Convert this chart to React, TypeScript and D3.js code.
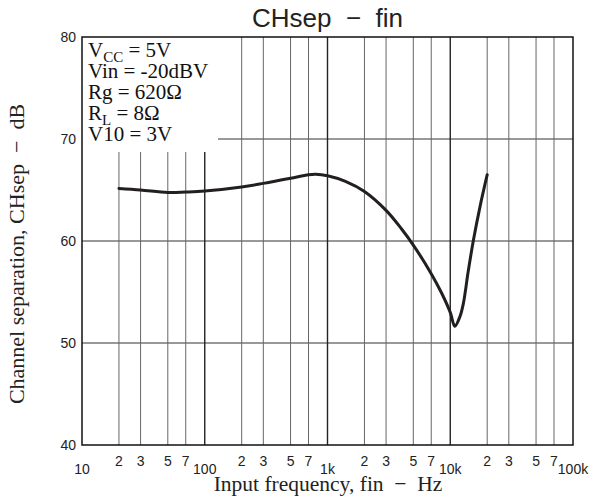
import React from 'react';
import * as d3 from 'd3';

const freqs = [20, 30, 50, 70, 100, 200, 300, 500, 700, 800, 1000, 1400, 2000, 3000, 4000, 5000, 7000, 8500, 10000, 10900, 12000, 12800, 14000, 15400, 17500, 20000];
const chsep = [65.15, 65.0, 64.75, 64.8, 64.9, 65.3, 65.65, 66.15, 66.5, 66.55, 66.4, 65.85, 64.85, 63.0, 61.2, 59.6, 56.8, 54.9, 53.0, 51.65, 52.6, 53.9, 57.0, 60.0, 63.4, 66.5];
const yTicks = [40, 50, 60, 70, 80];
const decadeTicks = [10, 100, 1000, 10000, 100000];
const decadeLabels = ['10', '100', '1k', '10k', '100k'];
const minorMults = [2, 3, 5, 7];

const SANS = 'Liberation Sans, Arial, Helvetica, sans-serif';
const SERIF = 'Liberation Serif, Times New Roman, serif';

export default function App() {
  const W = 593, H = 501;
  const L = 82, R = 573, T = 37, B = 445;
  const x = d3.scaleLog().domain([10, 100000]).range([L, R]);
  const y = d3.scaleLinear().domain([40, 80]).range([B, T]);
  const minors = decadeTicks.slice(0, 4).flatMap(d => minorMults.map(k => d * k));
  const line = d3.line<number>()
    .x((_, i) => x(freqs[i]))
    .y(d => y(d))
    .curve(d3.curveCatmullRom.alpha(0.5));
  const boxR = 218, boxB = 152;

  return (
    <svg width={W} height={H} style={{ position: 'absolute', left: 0, top: 0, background: '#fff' }}>
      <rect x={0} y={0} width={W} height={H} fill="#fff" />
      {yTicks.slice(1, 4).map(v => (
        <line key={'h' + v} x1={L} x2={R} y1={y(v)} y2={y(v)} stroke="#333" strokeWidth={1} />
      ))}
      {minors.map(f => (
        <line key={'m' + f} x1={x(f)} x2={x(f)} y1={T} y2={B} stroke="#666" strokeWidth={1} />
      ))}
      {decadeTicks.slice(1, 4).map(f => (
        <line key={'d' + f} x1={x(f)} x2={x(f)} y1={T} y2={B} stroke="#222" strokeWidth={1.4} />
      ))}
      <rect x={L} y={T} width={boxR - L} height={boxB - T} fill="#fff" />
      <g fontFamily={SERIF} fontSize={21} fill="#111">
        <text x={88} y={57}>V<tspan fontSize={15} dy={5}>CC</tspan><tspan dy={-5}> = 5V</tspan></text>
        <text x={88} y={78}>Vin = -20dBV</text>
        <text x={88} y={99}>Rg = 620Ω</text>
        <text x={88} y={120}>R<tspan fontSize={15} dy={5}>L</tspan><tspan dy={-5}> = 8Ω</tspan></text>
        <text x={88} y={141}>V10 = 3V</text>
      </g>
      <rect x={L} y={T} width={R - L} height={B - T} fill="none" stroke="#111" strokeWidth={1.5} />
      <path d={line(chsep) || ''} fill="none" stroke="#231f20" strokeWidth={3} strokeLinejoin="round" strokeLinecap="round" />
      <g fontFamily={SANS} fontSize={14} fill="#222" textAnchor="end">
        {yTicks.map(v => (
          <text key={'yl' + v} x={76} y={y(v) + 5}>{v}</text>
        ))}
      </g>
      <g fontFamily={SANS} fontSize={14} fill="#222" textAnchor="middle">
        {minors.map(f => (
          <text key={'xl' + f} x={x(f)} y={466}>{String(Math.round(f / Math.pow(10, Math.floor(Math.log10(f) + 1e-9))))}</text>
        ))}
        {decadeTicks.map((f, i) => (
          <text key={'xd' + f} x={x(f)} y={474}>{decadeLabels[i]}</text>
        ))}
      </g>
      <text x={(L + R) / 2} y={27} fontFamily={SANS} fontSize={26} fill="#222" textAnchor="middle">CHsep{'\u00a0\u00a0'}−{'\u00a0\u00a0'}fin</text>
      <text x={328} y={491} fontFamily={SERIF} fontSize={21.5} fill="#222" textAnchor="middle">Input frequency, fin{'\u00a0\u00a0'}−{'\u00a0\u00a0'}Hz</text>
      <text transform={`translate(24,254) rotate(-90)`} fontFamily={SERIF} fontSize={22} fill="#222" textAnchor="middle">Channel separation, CHsep{'\u00a0\u00a0'}−{'\u00a0\u00a0'}dB</text>
    </svg>
  );
}
